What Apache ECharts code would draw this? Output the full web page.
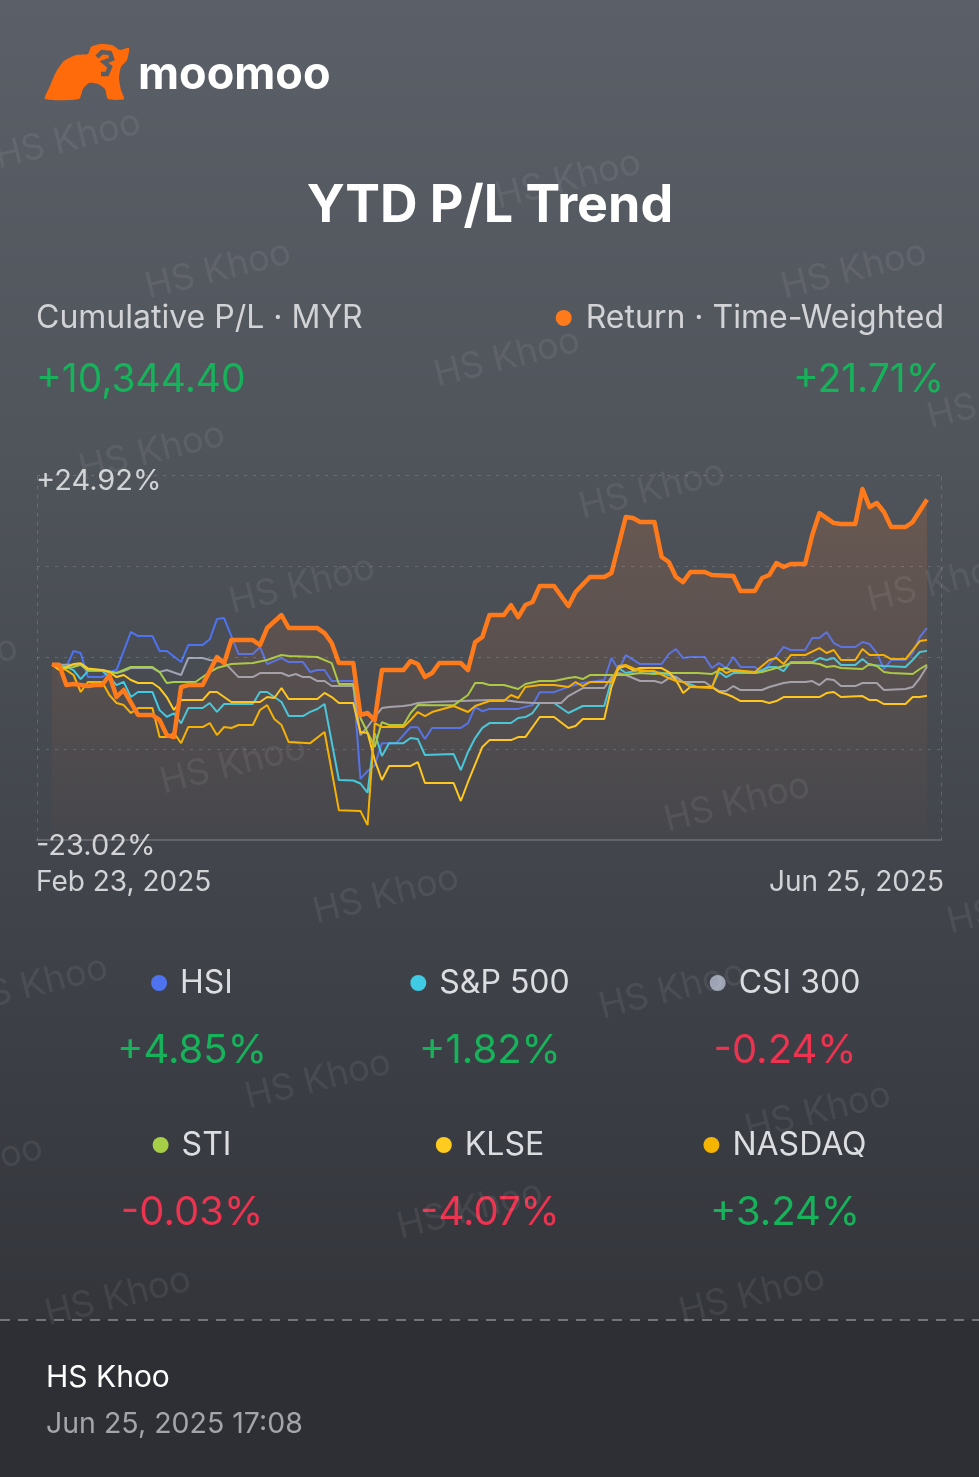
<!DOCTYPE html>
<html>
<head>
<meta charset="utf-8">
<script src="https://cdn.jsdelivr.net/npm/echarts@6/dist/echarts.min.js"></script>
<style>
html,body{margin:0;padding:0;background:#2d2f34;}
#chart{width:979px;height:1477px;}
</style>
</head>
<body>
<div id="chart"></div>
<script>
// ---- data (day offset from start date, cumulative return %) ----
const startDate = '2025-02-23';
const endDate = '2025-06-25';
const xLabels = ['Feb 23, 2025', 'Jun 25, 2025'];
const yTicks = [-23.02, -11.035, 0.95, 12.935, 24.92];
const yLabels = ['-23.02%', '+24.92%'];

const portfolio = [[0,0],[1,0],[2,-2.67],[3,-2.53],[4,-2.67],[5,-2.8],[6,-2.67],[7,-2.67],[8,-1.35],[9,-4.24],[10,-3.32],[12,-6.6],[14,-6.6],[15,-7.27],[16,-9.24],[17,-9.5],[18,-2.93],[19,-2.67],[21,-2.67],[23,1.01],[24,0.22],[25,3.24],[28,3.24],[29,2.59],[30,4.82],[32,6.53],[33,4.82],[37,4.82],[38,4.16],[39,2.85],[40,0.22],[42,0.22],[43,-6.6],[44,-6.34],[45,-7.27],[46,-0.7],[49,-0.7],[50,0.49],[51,0.09],[52,-1.6],[53,-1.09],[54,0.22],[57,0.22],[58,-0.7],[59,2.98],[60,3.64],[61,6.53],[63,6.53],[64,7.84],[65,6.26],[66,7.84],[67,8.24],[68,10.34],[70,10.34],[72,7.71],[73,9.55],[75,11.52],[77,11.52],[78,12.04],[80,19.4],[81,19.27],[82,18.74],[84,18.74],[85,14.15],[86,13.49],[87,11.52],[88,10.86],[89,12.18],[91,12.18],[92,11.78],[95,11.65],[96,9.68],[98,9.68],[99,11.39],[100,11.78],[101,13.36],[102,12.83],[103,13.23],[105,13.23],[106,17.03],[107,19.92],[109,18.61],[110,18.48],[112,18.48],[113,23.08],[114,20.71],[115,21.24],[116,20.06],[117,18.09],[119,18.09],[120,18.74],[122,21.71]];

const hsi = [[0,0],[2,-0.3],[3,1.8],[4,1.54],[5,-1.62],[7,-1.62],[8,-0.96],[9,-0.7],[11,4.3],[12,3.77],[14,3.77],[15,1.8],[16,1.8],[18,0.35],[19,2.59],[21,2.59],[22,3.34],[23,6.0],[24,6.13],[25,3.77],[26,1.41],[28,1.41],[29,2.33],[30,0.09],[32,0.88],[33,0.35],[35,0.35],[36,-0.96],[37,-0.7],[38,-0.7],[39,-2.14],[42,-2.14],[43,-15.0],[44,-13.96],[45,-13.2],[46,-10.3],[48,-10.3],[50,-8.2],[51,-8.2],[52,-9.76],[53,-8.3],[57,-8.3],[58,-7.66],[59,-5.56],[60,-6.1],[61,-5.8],[65,-5.8],[67,-5.3],[68,-3.6],[70,-3.6],[72,-2.9],[74,-2.4],[77,-2.0],[78,0.88],[79,-0.7],[80,1.27],[82,0.09],[85,0.09],[86,1.41],[87,2.06],[88,0.88],[89,1.01],[91,1.01],[92,-0.43],[93,0.22],[94,-0.43],[95,1.01],[96,-0.3],[98,-0.3],[99,-0.96],[101,1.14],[102,2.33],[103,1.93],[105,1.93],[106,3.5],[107,3.5],[108,4.3],[109,2.85],[110,2.33],[112,2.33],[113,2.98],[114,2.72],[115,1.54],[116,-0.56],[117,0.62],[119,0.62],[120,1.54],[121,3.64],[122,4.85]];

const sp500 = [[0,0],[2,-0.3],[3,-0.7],[4,-1.88],[5,-0.83],[7,-0.83],[8,-1.62],[9,-2.67],[10,-2.25],[11,-4.24],[12,-3.58],[14,-3.58],[15,-5.96],[16,-6.83],[17,-6.38],[18,-7.7],[19,-5.69],[21,-5.69],[22,-5.03],[23,-6.2],[24,-5.16],[28,-5.16],[29,-3.58],[30,-3.58],[32,-4.9],[33,-6.74],[35,-6.74],[36,-6.2],[37,-5.82],[38,-5.16],[40,-15.14],[42,-15.2],[43,-15.6],[44,-16.8],[45,-8.97],[46,-11.99],[47,-10.3],[49,-10.3],[50,-9.63],[51,-9.76],[52,-11.86],[56,-11.73],[57,-13.83],[58,-11.46],[59,-9.63],[60,-8.3],[61,-7.66],[64,-7.66],[65,-7.0],[66,-6.87],[67,-6.34],[68,-5.03],[70,-5.03],[72,-6.34],[74,-5.42],[77,-5.42],[78,-2.01],[79,-0.43],[80,-1.09],[82,-0.7],[84,-0.96],[85,-1.09],[87,-1.62],[88,-2.27],[90,-2.93],[92,-2.93],[93,-0.96],[94,-1.62],[95,-1.09],[98,-1.09],[100,-0.3],[101,-0.3],[102,-0.83],[103,0.35],[106,0.35],[107,0.88],[108,0.62],[109,0.88],[110,-0.04],[112,-0.04],[113,0.75],[114,-0.04],[116,-0.17],[119,-0.3],[120,0.62],[121,1.67],[122,1.82]];

const csi300 = [[0,0],[3,0],[4,0],[5,-0.83],[7,-0.83],[9,-1.09],[10,-0.83],[11,-0.43],[14,-0.43],[15,-0.96],[16,-0.7],[18,-1.35],[19,0.88],[21,0.88],[22,0.62],[24,0.35],[26,-1.62],[28,-1.62],[29,-1.09],[32,-1.09],[33,-1.48],[34,-1.22],[35,-1.62],[36,-1.62],[37,-2.14],[38,-2.14],[39,-2.8],[42,-2.8],[43,-9.24],[44,-8.18],[45,-6.87],[46,-5.69],[47,-5.56],[49,-5.42],[50,-5.29],[51,-5.03],[53,-4.9],[57,-4.77],[61,-4.64],[63,-4.64],[65,-4.9],[67,-5.03],[71,-5.03],[72,-4.11],[74,-3.06],[77,-3.06],[78,-1.62],[79,-1.09],[80,-1.35],[82,-2.14],[84,-2.14],[85,-2.4],[86,-1.75],[87,-1.62],[88,-2.27],[91,-2.27],[92,-2.93],[93,-3.45],[94,-3.45],[95,-2.8],[96,-3.32],[99,-3.32],[100,-2.93],[102,-2.4],[103,-2.27],[105,-2.27],[106,-2.14],[107,-2.67],[108,-1.88],[109,-2.01],[110,-2.8],[112,-2.8],[113,-2.4],[115,-2.4],[116,-3.32],[119,-3.19],[120,-2.93],[121,-1.75],[122,-0.24]];

const sti = [[0,0],[2,-0.43],[3,-0.3],[4,0],[5,-0.7],[7,-0.7],[9,-1.09],[11,-0.3],[14,-0.3],[15,-0.96],[16,-2.4],[17,-2.27],[20,-2.27],[22,-0.96],[23,-0.43],[25,0.09],[28,0.22],[30,0.62],[32,1.27],[33,1.14],[37,1.01],[39,0.22],[40,-2.53],[42,-2.53],[43,-7.0],[45,-10.8],[46,-7.53],[47,-7.92],[49,-7.92],[50,-6.34],[51,-5.29],[53,-5.33],[56,-5.33],[58,-3.98],[59,-2.4],[60,-2.4],[61,-2.67],[63,-2.67],[65,-3.19],[66,-2.53],[68,-2.14],[70,-2.14],[72,-1.75],[73,-1.62],[74,-1.88],[75,-1.35],[80,-1.35],[82,-1.09],[84,-1.22],[86,-1.09],[90,-1.09],[92,-1.22],[93,-0.7],[94,-0.43],[95,-0.83],[98,-1.09],[99,-0.96],[101,-0.43],[102,-0.17],[103,0.22],[106,0.22],[107,0.09],[108,-0.3],[109,-0.17],[110,-0.43],[113,-0.56],[114,0.09],[115,-0.17],[116,-0.96],[117,-1.09],[120,-1.22],[121,-0.56],[122,-0.03]];

const klse = [[0,0],[1,-0.7],[3,0.09],[4,0.18],[5,-0.48],[7,-0.7],[8,-0.96],[9,-1.62],[10,-1.35],[11,-2.01],[12,-2.4],[14,-2.4],[15,-3.06],[16,-4.24],[17,-5.95],[18,-4.64],[21,-4.64],[22,-3.58],[23,-3.58],[25,-4.9],[29,-4.9],[30,-4.24],[31,-4.37],[32,-3.06],[33,-4.5],[37,-4.5],[38,-3.71],[39,-4.24],[40,-5.03],[42,-5.03],[43,-8.84],[44,-8.97],[45,-12.52],[46,-15.14],[47,-13.3],[50,-13.3],[51,-12.78],[52,-15.54],[56,-15.54],[57,-17.9],[58,-15.4],[60,-10.8],[61,-9.9],[64,-9.9],[65,-9.5],[66,-9.5],[68,-6.87],[70,-6.87],[72,-8.31],[73,-8.05],[74,-7.13],[77,-7.13],[78,-2.93],[79,-0.43],[80,-0.17],[81,-0.7],[82,-0.43],[85,-0.43],[86,-0.96],[87,-2.01],[88,-3.72],[89,-2.93],[92,-2.93],[93,-3.58],[94,-3.85],[95,-4.24],[96,-4.77],[99,-4.77],[100,-5.03],[101,-4.77],[102,-4.24],[106,-4.24],[107,-4.24],[108,-3.72],[109,-3.58],[110,-4.24],[113,-4.11],[114,-4.64],[115,-4.64],[116,-5.16],[119,-5.16],[120,-4.24],[121,-4.24],[122,-4.07]];

const nasdaq = [[0,0],[2,-0.7],[3,-1.35],[4,-3.58],[5,-2.27],[7,-2.27],[8,-3.98],[9,-5.03],[10,-5.3],[11,-6.34],[12,-5.69],[14,-5.69],[15,-9.5],[16,-9.5],[17,-8.97],[18,-10.3],[19,-8.18],[21,-8.18],[22,-7.66],[23,-9.24],[24,-8.18],[25,-8.31],[26,-7.92],[28,-7.92],[29,-5.95],[30,-5.3],[31,-7.13],[32,-7.92],[33,-10.16],[36,-10.3],[38,-8.84],[40,-19.1],[43,-19.2],[44,-21.06],[45,-7.66],[46,-8.18],[49,-8.18],[50,-7.27],[51,-6.21],[52,-6.74],[53,-6.21],[56,-5.42],[58,-6.21],[59,-5.42],[61,-4.77],[63,-4.77],[64,-3.98],[65,-4.37],[66,-2.93],[68,-2.67],[70,-2.67],[72,-2.93],[73,-2.27],[74,-2.8],[75,-2.27],[78,-2.27],[79,-0.17],[80,-0.04],[82,-0.83],[84,-0.83],[86,-1.75],[87,-2.14],[88,-2.27],[89,-2.93],[92,-3.06],[93,-0.43],[94,-1.09],[95,-0.7],[98,-0.96],[100,0.62],[101,0.88],[102,0.09],[103,1.27],[105,1.27],[107,2.19],[108,1.54],[109,1.93],[110,0.62],[112,0.62],[113,2.06],[114,1.27],[116,1.27],[117,0.75],[119,0.75],[121,3.11],[122,3.24]];

const benchNames = ['HSI', 'S&P 500', 'CSI 300', 'STI', 'KLSE', 'NASDAQ'];
const benchColors = ['#4d73f0', '#3fcbe3', '#9ea4b4', '#a6cf47', '#ffcb1f', '#f5b400'];
const benchFinal = [4.85, 1.82, -0.24, -0.03, -4.07, 3.24];
const benchData = [hsi, sp500, csi300, sti, klse, nasdaq];

const plLabel = 'Cumulative P/L · MYR';
const plValue = '+10,344.40';
const retLabel = 'Return · Time-Weighted';
const retValue = '+21.71%';
const pageTitle = 'YTD P/L Trend';
const userName = 'HS Khoo';
const stamp = 'Jun 25, 2025 17:08';

// ---- helpers ----
const DAY = 86400000;
const t0 = Date.parse(startDate + 'T00:00:00Z');
const toTime = arr => arr.map(p => [t0 + p[0] * DAY, p[1]]);
const tEnd = Date.parse(endDate + 'T00:00:00Z');

const GREEN = '#17b35b', RED = '#ec3350';
const FONT = 'Inter, Roboto, sans-serif';
const fmtPct = v => (v >= 0 ? '+' : '') + v.toFixed(2) + '%';
const mctx = document.createElement('canvas').getContext('2d');
const textW = (font, txt) => { mctx.font = font; return mctx.measureText(txt).width; };

const chart = echarts.init(document.getElementById('chart'), null, {renderer: 'canvas'});

// watermark positions
const wm = [[68,140],[568,180],[218,270],[854,270],[507,358],[1000,400],[152,452],[652,490],[302,585],[940,583],[-55,665],[233,765],[737,803],[386,895],[1020,905],[35,985],[672,990],[318,1080],[818,1112],[-30,1165],[470,1210],[118,1297],[752,1295]];

const graphics = [];
// footer
graphics.push({type:'rect', shape:{x:0,y:1320,width:979,height:157}, style:{fill:'#2d2f34'}, z:0, silent:true});
graphics.push({type:'line', shape:{x1:0,y1:1320,x2:979,y2:1320}, style:{stroke:'#8a8c90', lineWidth:1.5, lineDash:[10,8]}, z:1, silent:true});
// logo icon (simplified bull)
graphics.push({type:'polygon', shape:{smooth:0.2, points:[[45,99],[50,86],[56,72],[64,61],[76,55],[88,54],[91,47],[100,44],[112,45],[120,50],[129,48],[127,60],[121,67],[119,78],[121,90],[124,99],[108,99],[105,89],[98,84],[89,83],[83,89],[79,99]]}, style:{fill:'#ff6a0a'}, z:5, silent:true});
graphics.push({type:'polyline', shape:{points:[[97,57],[102,52],[110,53],[112,59],[104,62],[110,67],[107,74],[101,74]]}, style:{stroke:'#595d64', lineWidth:4.5, fill:null}, z:6, silent:true});
graphics.push({type:'text', x:138, y:75, style:{text:'moomoo', fill:'#ffffff', font:'bold 45px ' + FONT, textVerticalAlign:'middle'}, z:5});
// title
graphics.push({type:'text', x:490, y:206, style:{text:pageTitle, fill:'#ffffff', font:'bold 52px ' + FONT, textAlign:'center', textVerticalAlign:'middle'}, z:5});
// header stats
const hdrFont = '32px ' + FONT;
graphics.push({type:'text', x:36, y:318, style:{text:plLabel, fill:'#d2d3d6', font:hdrFont, textVerticalAlign:'middle'}, z:5});
graphics.push({type:'text', x:944, y:318, style:{text:retLabel, fill:'#d2d3d6', font:hdrFont, textAlign:'right', textVerticalAlign:'middle'}, z:5});
graphics.push({type:'circle', shape:{cx:944 - textW(hdrFont, retLabel) - 22, cy:318, r:8}, style:{fill:'#ff7a1a'}, z:5});
graphics.push({type:'text', x:36, y:380, style:{text:plValue, fill:GREEN, font:'39px ' + FONT, textVerticalAlign:'middle'}, z:5});
graphics.push({type:'text', x:944, y:380, style:{text:retValue, fill:GREEN, font:'39px ' + FONT, textAlign:'right', textVerticalAlign:'middle'}, z:5});
// x labels
graphics.push({type:'text', x:36, y:883, style:{text:xLabels[0], fill:'#d2d3d6', font:'28px ' + FONT, textVerticalAlign:'middle'}, z:5});
graphics.push({type:'text', x:944, y:883, style:{text:xLabels[1], fill:'#d2d3d6', font:'28px ' + FONT, textAlign:'right', textVerticalAlign:'middle'}, z:5});
// benchmark legend
const colX = [192, 490, 785];
const rowY = [983, 1145];
const nameFont = '32px ' + FONT;
benchNames.forEach((n, i) => {
  const cx = colX[i % 3], ry = rowY[Math.floor(i / 3)];
  const w = 8 + 21 + textW(nameFont, n);
  const left = cx - w / 2;
  graphics.push({type:'circle', shape:{cx:left + 8, cy:ry, r:8}, style:{fill:benchColors[i]}, z:5});
  graphics.push({type:'text', x:left + 29, y:ry, style:{text:n, fill:'#dcdde0', font:nameFont, textVerticalAlign:'middle'}, z:5});
  graphics.push({type:'text', x:cx, y:ry + 68, style:{text:fmtPct(benchFinal[i]), fill:benchFinal[i] >= 0 ? GREEN : RED, font:'40px ' + FONT, textAlign:'center', textVerticalAlign:'middle'}, z:5});
});
// footer texts
graphics.push({type:'text', x:46, y:1378, style:{text:userName, fill:'#ffffff', font:'30px ' + FONT, textVerticalAlign:'middle'}, z:5});
graphics.push({type:'text', x:46, y:1424, style:{text:stamp, fill:'#a3a5aa', font:'28.5px ' + FONT, textVerticalAlign:'middle'}, z:5});
// watermarks
wm.forEach(p => graphics.push({type:'text', x:p[0], y:p[1], rotation:14 * Math.PI / 180, style:{text:userName, fill:'rgba(255,255,255,0.07)', font:'36px ' + FONT, textAlign:'center', textVerticalAlign:'middle'}, z:20, silent:true}));

const benchSeries = benchNames.map((n, i) => ({
  name: n, type: 'line', data: toTime(benchData[i]), symbol: 'none', smooth: false,
  lineStyle: {color: benchColors[i], width: 2}, z: 3, silent: true
}));

const option = {
  backgroundColor: new echarts.graphic.LinearGradient(0, 0, 0, 1, [
    {offset: 0, color: '#5b5f67'},
    {offset: 0.3, color: '#50545b'},
    {offset: 0.6, color: '#41444b'},
    {offset: 0.9, color: '#33353b'},
    {offset: 1, color: '#2d2f34'}
  ]),
  animation: false,
  textStyle: {fontFamily: FONT},
  grid: {left: 37, right: 38, top: 475, bottom: 637, containLabel: false},
  xAxis: {
    type: 'time',
    min: t0 - 2.09 * DAY,
    max: tEnd + 1.95 * DAY,
    axisLine: {show: true, onZero: false, lineStyle: {color: 'rgba(255,255,255,0.22)', width: 1.5}},
    axisTick: {show: false},
    axisLabel: {show: false},
    splitLine: {show: false}
  },
  yAxis: [{
    type: 'value',
    min: yTicks[0],
    max: yTicks[yTicks.length - 1],
    axisLine: {show: true, onZero: false, lineStyle: {color: 'rgba(255,255,255,0.16)', type: [3, 6]}},
    axisTick: {show: false},
    splitLine: {show: false},
    axisLabel: {
      inside: true, margin: -1, color: '#d2d3d6', fontSize: 29, fontFamily: FONT,
      showMinLabel: true, showMaxLabel: true,
      formatter: v => {
        const s = Math.abs(v - yTicks[0]) < 1e-6 ? yLabels[0] : (Math.abs(v - yTicks[yTicks.length - 1]) < 1e-6 ? yLabels[1] : '');
        return s ? '{v|' + s + '}' : '';
      },
      rich: {v: {fontSize: 29, fontFamily: FONT, color: '#d2d3d6', padding: [12, 0, 0, 0]}}
    }
  }, {
    type: 'value', position: 'right',
    min: yTicks[0], max: yTicks[yTicks.length - 1],
    axisLine: {show: true, onZero: false, lineStyle: {color: 'rgba(255,255,255,0.16)', type: [3, 6]}},
    axisTick: {show: false}, splitLine: {show: false}, axisLabel: {show: false}
  }],
  series: benchSeries.concat([{
    name: 'Portfolio', type: 'line', data: toTime(portfolio), symbol: 'none',
    lineStyle: {color: '#ff7a1a', width: 4.5, join: 'round'},
    areaStyle: {
      origin: 'start',
      color: new echarts.graphic.LinearGradient(0, 0, 0, 1, [
        {offset: 0, color: 'rgba(255,125,40,0.22)'},
        {offset: 1, color: 'rgba(255,125,40,0.02)'}
      ])
    },
    z: 4, silent: true,
    markLine: {
      silent: true, symbol: 'none', label: {show: false},
      lineStyle: {color: 'rgba(255,255,255,0.16)', type: [3, 6], width: 1},
      data: yTicks.slice(1).map(v => ({yAxis: v}))
    }
  }]),
  graphic: {elements: graphics}
};
chart.setOption(option);
</script>
</body>
</html>
